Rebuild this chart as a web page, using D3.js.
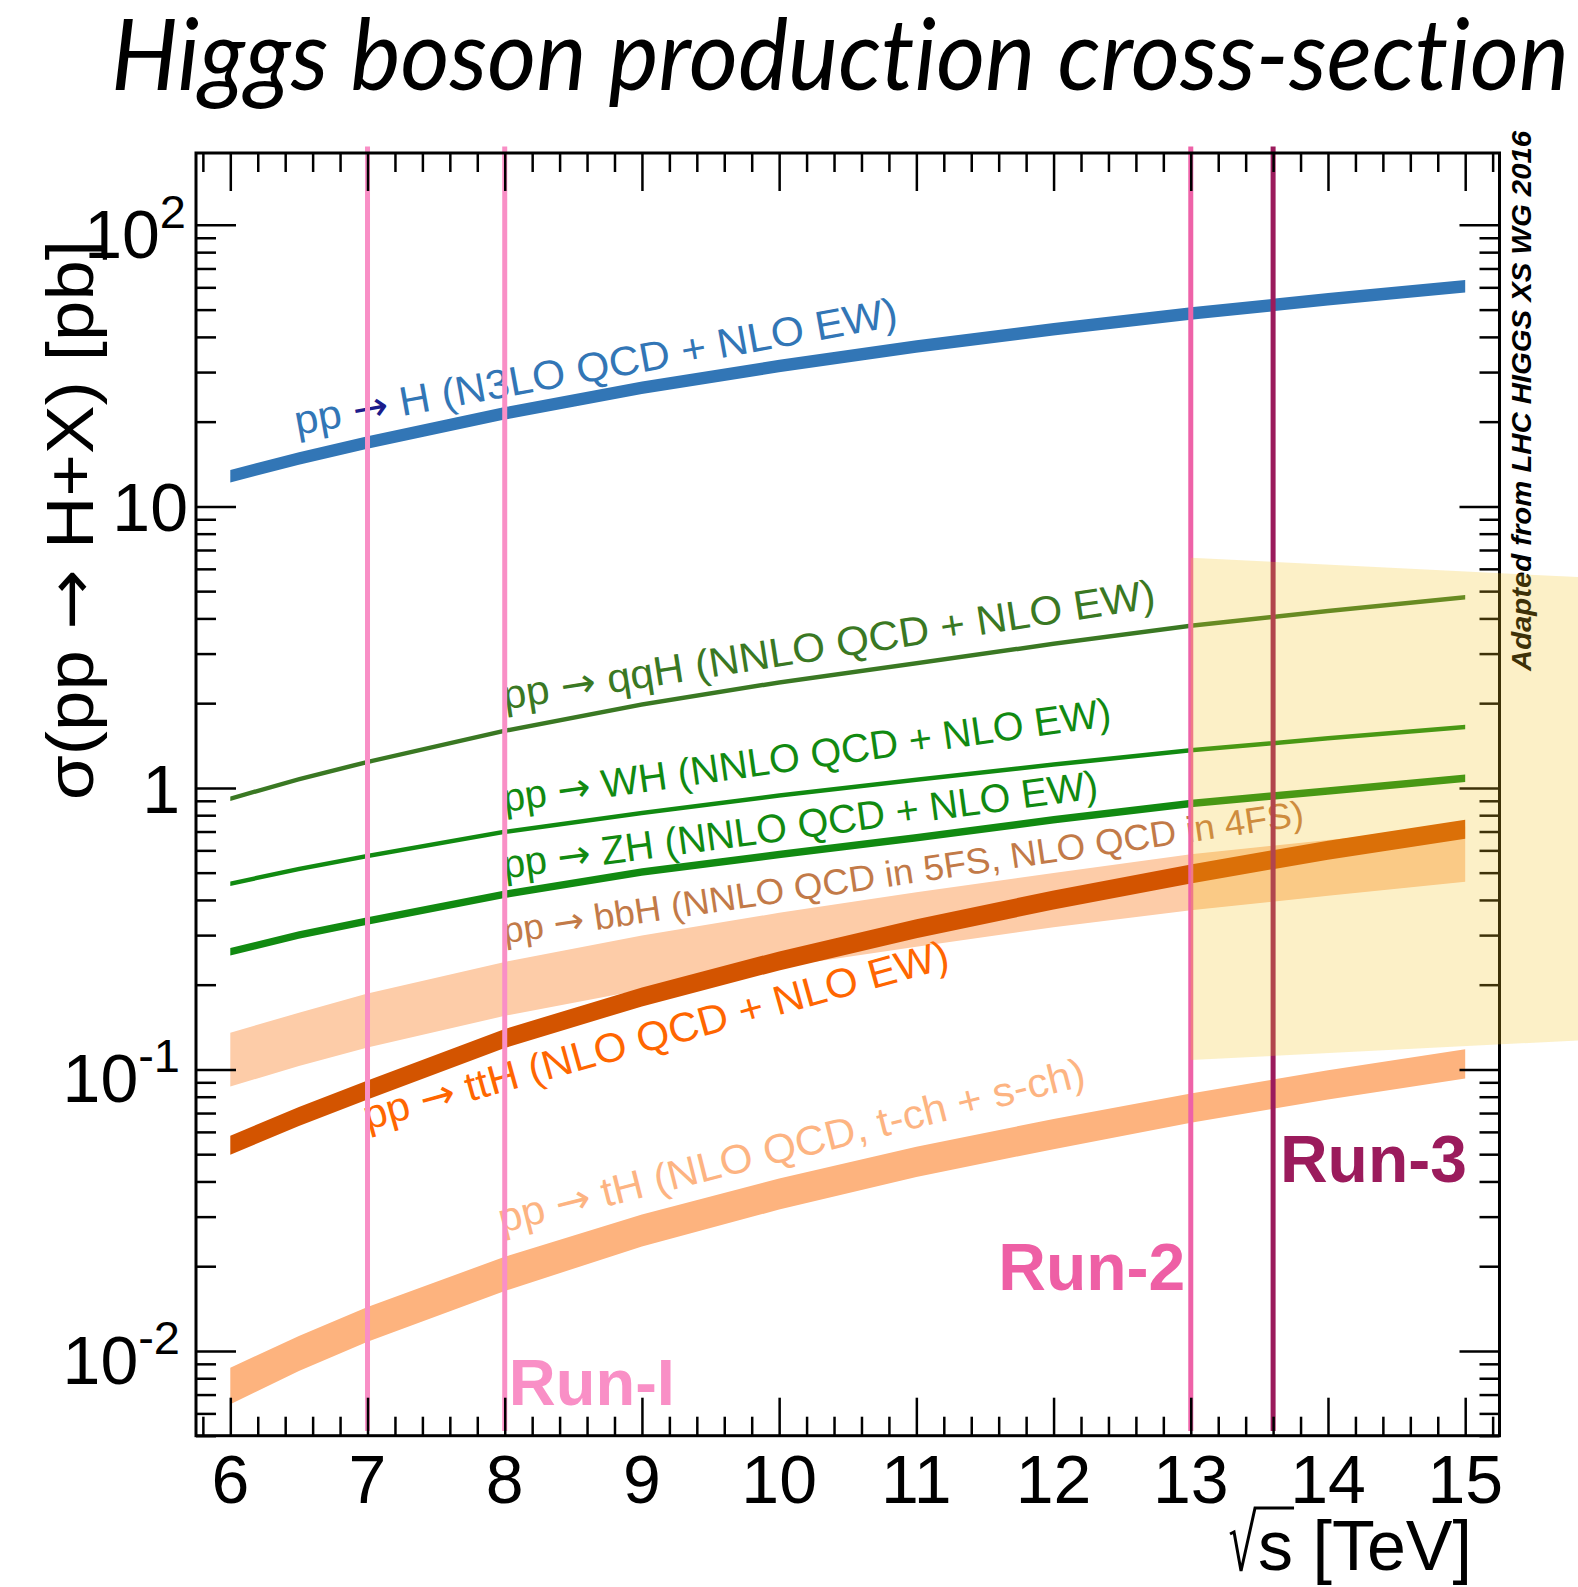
<!DOCTYPE html>
<html>
<head>
<meta charset="utf-8">
<title>Higgs boson production cross-section</title>
<script src="https://d3js.org/d3.v7.min.js"></script>
<style>
  body { margin: 0; background: #fff; }
  text { font-family: "Liberation Sans", Arial, Helvetica, sans-serif; }
  .title { font-family: Lato, "Open Sans", sans-serif; font-style: italic; font-size: 100px; font-variant-ligatures: none; }
  .tick line { stroke: #000; stroke-width: 2.5; }
  .ticklab { font-size: 68px; fill: #000; }
  .arrow { font-family: "DejaVu Sans", sans-serif; }
  .run { font-size: 66px; font-weight: bold; }
</style>
</head>
<body>
<script>
// sqrt(s) points [TeV]
var energy = [6, 6.5, 7, 8, 9, 10, 11, 12, 13, 14, 15];

// cross sections [pb]
var ggH  = [12.8, 14.8, 16.85, 21.4, 26.4, 31.5, 37.0, 42.6, 48.4, 54.4, 60.5];
var qqH  = [0.916, 1.074, 1.237, 1.595, 1.977, 2.37, 2.77, 3.25, 3.77, 4.25, 4.76];
var WH   = [0.457, 0.515, 0.573, 0.698, 0.815, 0.94, 1.07, 1.21, 1.36, 1.50, 1.647];
var ZH   = [0.262, 0.30, 0.337, 0.419, 0.503, 0.58, 0.665, 0.77, 0.88, 0.975, 1.082];
var ttH  = [0.0538, 0.068, 0.0846, 0.1288, 0.181, 0.243, 0.316, 0.400, 0.495, 0.601, 0.713];
var bbHhi = [0.135, 0.159, 0.186, 0.241, 0.299, 0.36, 0.426, 0.499, 0.581, 0.653, 0.73];
var bbHlo = [0.0869, 0.1029, 0.1196, 0.155, 0.192, 0.231, 0.273, 0.32, 0.368, 0.4136, 0.4637];
var tHhi = [0.00872, 0.0113, 0.01434, 0.0216, 0.0305, 0.0410, 0.0531, 0.0667, 0.0821, 0.0993, 0.118];
var tHlo = [0.00647, 0.00849, 0.01079, 0.01633, 0.0235, 0.0318, 0.0415, 0.0521, 0.0646, 0.0782, 0.0929];

// run energies
var runEnergy = [7, 8, 13, 13.6];

// shaded region beyond 13 TeV
var shadeE  = [13, 15.85];
var shadeHi = [6.57, 5.6];
var shadeLo = [0.108, 0.127];

// tick labels
var xTicks = [6, 7, 8, 9, 10, 11, 12, 13, 14, 15];
var yTicks = [0.01, 0.1, 1, 10, 100];
var yTickBase = ["10", "10", "1", "10", "10"];
var yTickSup  = ["-2", "-1", "", "", "2"];

var W = 1578, H = 1587;
var frame = {left: 196, right: 1499.5, top: 153, bottom: 1435.7};

var svg = d3.select('body').append('svg')
    .attr('width', W)
    .attr('height', H);

var x = d3.scaleLinear().domain([5.75, 15.25]).range([frame.left, frame.right]);
var y = d3.scaleLog().domain([0.005, 180]).range([frame.bottom, frame.top]);

// TITLE //
svg.append('text')
    .attr('class', 'title')
    .attr('x', 111)
    .attr('y', 90)
    .attr('textLength', 1458)
    .attr('lengthAdjust', 'spacingAndGlyphs')
    .text('Higgs boson production cross-section');

// BANDS //
function band(lo, hi) {
    return d3.area()
        .x(function(d, i){ return x(energy[i]); })
        .y0(function(d, i){ return y(lo[i]); })
        .y1(function(d, i){ return y(hi[i]); })(energy);
}
// thick line with vertical ends, width w in px
function thick(vals, w) {
    return d3.area()
        .x(function(d, i){ return x(energy[i]); })
        .y0(function(d){ return y(d) + w / 2; })
        .y1(function(d){ return y(d) - w / 2; })(vals);
}

svg.append('path').attr('d', band(bbHlo, bbHhi)).attr('fill', '#fdcca8');
svg.append('path').attr('d', band(tHlo, tHhi)).attr('fill', '#fdb37e');

var lines = [
    {v: qqH, w: 4.5, c: '#3a7823'},
    {v: WH,  w: 4.5, c: '#118a11'},
    {v: ZH,  w: 7.5, c: '#118a11'},
    {v: ggH, w: 12.5, c: '#3276b6'},
    {v: ttH, w: 19, c: '#d35400'}
];
lines.forEach(function(l){
    svg.append('path').attr('d', thick(l.v, l.w)).attr('fill', l.c);
});

// PROCESS LABELS // (anchor in TeV / pb, len = length along baseline)
var labels = [
    {post: ' H (N3LO QCD + NLO EW)', at: [6.486, 17.93], rot: -10.3, fs: 41, len: 612, c: '#3276b6', ac: '#1c1c8c'},
    {post: ' qqH (NNLO QCD + NLO EW)', at: [8.0, 1.898], rot: -8.9, fs: 41, len: 660, c: '#3a7823'},
    {post: ' WH (NNLO QCD + NLO EW)', at: [8.0, 0.821], rot: -8.1, fs: 40, len: 614, c: '#118a11'},
    {post: ' ZH (NNLO QCD + NLO EW)', at: [8.0, 0.477], rot: -7.7, fs: 40, len: 600, c: '#118a11'},
    {post: ' bbH (NNLO QCD in 5FS, NLO QCD in 4FS)', at: [8.0, 0.2804], rot: -8.4, fs: 36, len: 809, c: '#c27a48'},
    {post: ' ttH (NLO QCD + NLO EW)', at: [7.0, 0.0609], rot: -15.6, fs: 41, len: 606, c: '#ff6600'},
    {post: ' tH (NLO QCD, t-ch + s-ch)', at: [7.98, 0.02622], rot: -14.2, fs: 41, len: 604, c: '#fdb482'}
];
labels.forEach(function(l){
    var px = x(l.at[0]), py = y(l.at[1]);
    var t = svg.append('text')
        .attr('transform', 'translate(' + px + ',' + py + ') rotate(' + l.rot + ')')
        .style('font-size', l.fs + 'px')
        .attr('fill', l.c)
        .attr('textLength', l.len)
        .attr('lengthAdjust', 'spacingAndGlyphs');
    t.append('tspan').text('pp ');
    t.append('tspan').attr('class', 'arrow').attr('fill', l.ac || l.c).text('\u2192');
    t.append('tspan').text(l.post);
});

// RUN LINES //
var runColors = ['#f98fc6', '#f98fc6', '#ee62a8', '#9b1b5c'];
svg.selectAll('.runline')
    .data(runEnergy)
    .enter()
    .append('line')
    .attr('class', 'runline')
    .attr('x1', function(d){ return x(d); })
    .attr('x2', function(d){ return x(d); })
    .attr('y1', y(0.0052))
    .attr('y2', y(190))
    .attr('stroke', function(d, i){ return runColors[i]; })
    .attr('stroke-width', 5);

var runLabels = [
    {t: 'Run-I', at: [8.03, 0.00642], anchor: 'start', c: '#f98fc6', fs: 65},
    {t: 'Run-2', at: [12.96, 0.01645], anchor: 'end', c: '#ee5fa5', fs: 66},
    {t: 'Run-3', at: [13.65, 0.0398], anchor: 'start', c: '#9b1b5c', fs: 66}
];
runLabels.forEach(function(r){
    svg.append('text')
        .attr('class', 'run')
        .attr('x', x(r.at[0]))
        .attr('y', y(r.at[1]))
        .attr('text-anchor', r.anchor)
        .style('font-size', r.fs + 'px')
        .attr('fill', r.c)
        .text(r.t);
});

// AXES //
var xMinor = d3.range(5.8, 15.25, 0.2).filter(function(v){ return Math.abs(v - Math.round(v)) > 0.01; });
var yMinor = [];
[-3, -2, -1, 0, 1, 2].forEach(function(e){
    for (var k = 2; k <= 9; k++) {
        var v = k * Math.pow(10, e);
        if (v >= 0.005 && v <= 180) yMinor.push(v);
    }
});

function addAxis(gen, tr, vals, size) {
    var g = svg.append('g')
        .attr('transform', tr)
        .call(gen.tickValues(vals).tickSize(size).tickFormat(''));
    g.select('.domain').remove();
    return g;
}
addAxis(d3.axisBottom(x), 'translate(0,' + frame.bottom + ')', xTicks, -38);
addAxis(d3.axisBottom(x), 'translate(0,' + frame.bottom + ')', xMinor, -19);
addAxis(d3.axisTop(x), 'translate(0,' + frame.top + ')', xTicks, -38);
addAxis(d3.axisTop(x), 'translate(0,' + frame.top + ')', xMinor, -19);
addAxis(d3.axisLeft(y), 'translate(' + frame.left + ',0)', yTicks, -40);
addAxis(d3.axisLeft(y), 'translate(' + frame.left + ',0)', yMinor, -20);
addAxis(d3.axisRight(y), 'translate(' + frame.right + ',0)', yTicks, -40);
addAxis(d3.axisRight(y), 'translate(' + frame.right + ',0)', yMinor, -20);

svg.append('rect')
    .attr('x', frame.left)
    .attr('y', frame.top)
    .attr('width', frame.right - frame.left)
    .attr('height', frame.bottom - frame.top)
    .attr('fill', 'none')
    .attr('stroke', '#000')
    .attr('stroke-width', 3);

// tick labels
svg.selectAll('.xlab')
    .data(xTicks)
    .enter()
    .append('text')
    .attr('class', 'ticklab')
    .attr('x', function(d){ return x(d); })
    .attr('y', frame.bottom + 67)
    .attr('text-anchor', 'middle')
    .text(function(d){ return d; });

var yLabelGap = [16, 16, 16, 8, 10];
yTicks.forEach(function(v, i){
    var sup = yTickSup[i];
    var t = svg.append('text')
        .attr('class', 'ticklab')
        .attr('x', frame.left - yLabelGap[i])
        .attr('y', y(v) + (sup === '' ? 25 : 33))
        .attr('text-anchor', 'end');
    t.append('tspan').text(yTickBase[i]);
    if (sup !== '') {
        t.append('tspan')
            .attr('dy', -30)
            .style('font-size', '47px')
            .text(sup);
    }
});

// axis titles
var yt = svg.append('text')
    .attr('transform', 'translate(93,' + 520 + ') rotate(-90)')
    .attr('text-anchor', 'middle')
    .style('font-size', '66px')
    .attr('textLength', 560)
    .attr('lengthAdjust', 'spacingAndGlyphs');
yt.append('tspan').text('\u03c3(pp ');
yt.append('tspan').attr('class', 'arrow').text('\u2192');
yt.append('tspan').text(' H+X) [pb]');

// sqrt(s) [TeV] with a drawn radical
var xBase = 1570;
var xt = svg.append('text')
    .attr('x', 1472)
    .attr('y', xBase)
    .attr('text-anchor', 'end')
    .style('font-size', '70px')
    .text('s [TeV]');
var xn = xt.node();
var sStart = xn.getStartPositionOfChar(0).x;
var sEnd = xn.getEndPositionOfChar(0).x;
svg.append('path')
    .attr('d', 'M' + (sStart - 28) + ',' + (xBase - 36) +
               ' L' + (sStart - 24) + ',' + (xBase - 38) +
               ' L' + (sStart - 17) + ',' + (xBase + 1) +
               ' L' + (sStart - 3) + ',' + (xBase - 62) +
               ' L' + (sEnd + 1) + ',' + (xBase - 62))
    .attr('fill', 'none')
    .attr('stroke', '#000')
    .attr('stroke-width', 3);

// credit
svg.append('text')
    .attr('transform', 'translate(1531,671) rotate(-90)')
    .style('font-size', '28px')
    .style('font-weight', 'bold')
    .style('font-style', 'italic')
    .attr('textLength', 540)
    .attr('lengthAdjust', 'spacingAndGlyphs')
    .text('Adapted from LHC HIGGS XS WG 2016');

// SHADED REGION (drawn on top) //
svg.append('path')
    .attr('d', d3.area()
        .x(function(d){ return x(d); })
        .y0(function(d, i){ return y(shadeLo[i]); })
        .y1(function(d, i){ return y(shadeHi[i]); })(shadeE))
    .attr('fill', '#f3c221')
    .attr('opacity', 0.25);
</script>
</body>
</html>
